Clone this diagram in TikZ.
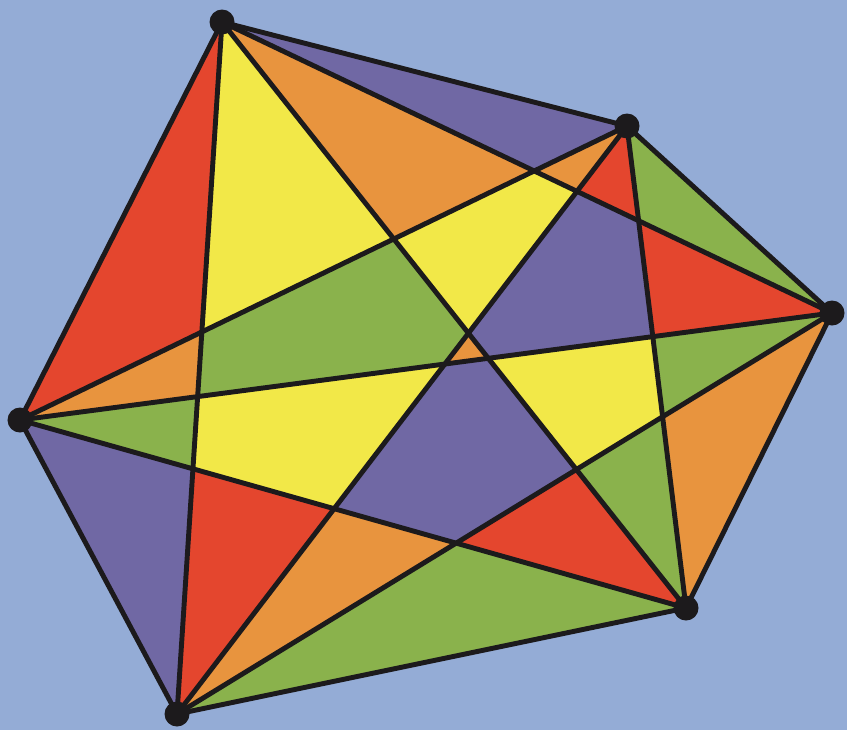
\documentclass[tikz,border=0pt]{standalone}
\definecolor{bgc}{RGB}{148,172,214}
\definecolor{cpur}{RGB}{112,104,164}
\definecolor{cred}{RGB}{228,70,46}
\definecolor{cora}{RGB}{232,148,62}
\definecolor{cyel}{RGB}{242,232,72}
\definecolor{cgrn}{RGB}{138,178,76}
\definecolor{cline}{RGB}{28,26,28}
\tikzset{
  edge/.style={draw=cline, line width=1.4pt, line join=round, line cap=round},
  vdot/.style={circle, fill=cline, inner sep=0pt, minimum size=0.25cm},
}
\begin{document}
\begin{tikzpicture}
\fill[bgc] (0,0) rectangle (8.47,-7.30);
\useasboundingbox (0,0) rectangle (8.47,-7.30);
\coordinate (A) at (2.22,-0.22);
\coordinate (B) at (6.27,-1.26);
\coordinate (C) at (8.32,-3.13);
\coordinate (D) at (6.86,-6.08);
\coordinate (E) at (1.77,-7.14);
\coordinate (F) at (0.20,-4.20);
\coordinate (P1) at (intersection of A--C and B--D);
\coordinate (P2) at (intersection of A--C and B--E);
\coordinate (P3) at (intersection of A--C and B--F);
\coordinate (P4) at (intersection of A--D and B--E);
\coordinate (P5) at (intersection of A--D and B--F);
\coordinate (P6) at (intersection of A--D and C--E);
\coordinate (P7) at (intersection of A--D and C--F);
\coordinate (P8) at (intersection of A--E and B--F);
\coordinate (P9) at (intersection of A--E and C--F);
\coordinate (P10) at (intersection of A--E and D--F);
\coordinate (P11) at (intersection of B--D and C--E);
\coordinate (P12) at (intersection of B--D and C--F);
\coordinate (P13) at (intersection of B--E and C--F);
\coordinate (P14) at (intersection of B--E and D--F);
\coordinate (P15) at (intersection of C--E and D--F);
% outer triangles
\fill[cpur] (A) -- (B) -- (P3) -- cycle;
\fill[cgrn] (B) -- (C) -- (P1) -- cycle;
\fill[cora] (C) -- (D) -- (P11) -- cycle;
\fill[cgrn] (D) -- (E) -- (P15) -- cycle;
\fill[cpur] (E) -- (F) -- (P10) -- cycle;
\fill[cred] (F) -- (A) -- (P8) -- cycle;
% vertex regions
\fill[cora] (A) -- (P3) -- (P5) -- cycle;
\fill[cyel] (A) -- (P5) -- (P8) -- cycle;
\fill[cora] (B) -- (P3) -- (P2) -- cycle;
\fill[cred] (B) -- (P2) -- (P1) -- cycle;
\fill[cred] (C) -- (P1) -- (P12) -- cycle;
\fill[cgrn] (C) -- (P12) -- (P11) -- cycle;
\fill[cgrn] (D) -- (P11) -- (P6) -- cycle;
\fill[cred] (D) -- (P6) -- (P15) -- cycle;
\fill[cora] (E) -- (P15) -- (P14) -- cycle;
\fill[cred] (E) -- (P14) -- (P10) -- cycle;
\fill[cgrn] (F) -- (P10) -- (P9) -- cycle;
\fill[cora] (F) -- (P9) -- (P8) -- cycle;
% inner regions
\fill[cyel] (P3) -- (P2) -- (P4) -- (P5) -- cycle;
\fill[cpur] (P2) -- (P1) -- (P12) -- (P7) -- (P4) -- cycle;
\fill[cgrn] (P5) -- (P4) -- (P13) -- (P9) -- (P8) -- cycle;
\fill[cora] (P4) -- (P7) -- (P13) -- cycle;
\fill[cyel] (P7) -- (P12) -- (P11) -- (P6) -- cycle;
\fill[cpur] (P13) -- (P7) -- (P6) -- (P15) -- (P14) -- cycle;
\fill[cyel] (P9) -- (P13) -- (P14) -- (P10) -- cycle;
% edges
\foreach \u/\v in {A/B,A/C,A/D,A/E,A/F,B/C,B/D,B/E,B/F,C/D,C/E,C/F,D/E,D/F,E/F}
  \draw[edge] (\u) -- (\v);
\foreach \v in {A,B,C,D,E,F}
  \node[vdot] (n\v) at (\v) {};
\end{tikzpicture}
\end{document}
